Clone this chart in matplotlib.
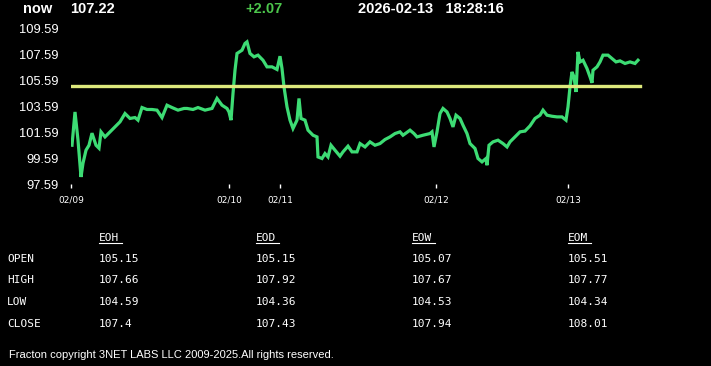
import numpy as np
import matplotlib
matplotlib.use("Agg")
import matplotlib.pyplot as plt
from matplotlib.lines import Line2D

# ---- data (sample index, price) ----
sample = [1, 4, 7, 10, 12, 15, 18, 21, 25, 28, 30, 34, 39, 44, 49, 54, 59, 64, 67, 71,
          76, 81, 86, 91, 96, 101, 107, 113, 116, 122, 127, 134, 141, 146, 151, 156, 158, 160, 162, 164,
          166, 171, 174, 176, 179, 183, 187, 192, 196, 201, 206, 209, 211, 213, 216, 219, 222, 226, 228, 230,
          234, 237, 242, 246, 247, 251, 254, 257, 260, 264, 269, 272, 277, 281, 286, 289, 294, 299, 304, 309,
          314, 319, 324, 329, 332, 339, 343, 346, 352, 359, 361, 363, 366, 369, 372, 376, 379, 382, 385, 389,
          392, 396, 399, 404, 407, 411, 415, 416, 418, 422, 427, 432, 436, 439, 444, 449, 454, 459, 464, 469,
          472, 476, 481, 486, 491, 495, 497, 499, 501, 503, 505, 507, 509, 512, 516, 519, 521, 522, 526, 529,
          532, 537, 541, 545, 549, 554, 559, 564, 567]
price = [100.61, 103.17, 101.00, 98.17, 99.23, 100.23, 100.61, 101.54, 100.61, 100.38, 101.64, 101.25, 101.64, 102.02, 102.41, 103.05, 102.67, 102.74, 102.54, 103.51,
         103.36, 103.36, 103.31, 102.74, 103.69, 103.51, 103.31, 103.44, 103.44, 103.36, 103.51, 103.31, 103.44, 104.21, 103.69, 103.44, 103.17, 102.54, 104.59, 106.38,
         107.67, 107.92, 108.44, 108.56, 107.67, 107.41, 107.54, 107.15, 106.64, 106.64, 106.44, 107.46, 106.51, 105.10, 103.56, 102.54, 101.90, 102.54, 104.21, 102.67,
         102.54, 101.77, 101.38, 101.25, 99.71, 99.59, 99.97, 99.71, 100.61, 100.23, 99.77, 100.10, 100.54, 100.10, 100.10, 100.74, 100.48, 100.87, 100.61, 100.74,
         101.05, 101.25, 101.51, 101.64, 101.38, 101.77, 101.51, 101.25, 101.38, 101.51, 101.64, 100.48, 101.64, 103.05, 103.44, 103.17, 102.67, 102.02, 102.92, 102.67,
         102.15, 101.51, 100.74, 100.36, 99.59, 99.33, 99.59, 99.07, 100.61, 100.87, 101.00, 100.74, 100.48, 100.87, 101.25, 101.64, 101.70, 102.10, 102.67, 102.92,
         103.31, 102.92, 102.84, 102.79, 102.79, 102.54, 103.56, 105.10, 106.25, 105.87, 104.71, 107.79, 107.02, 107.15, 106.51, 105.87, 105.41, 106.38, 106.64, 107.02,
         107.54, 107.54, 107.28, 107.02, 107.10, 106.90, 107.02, 106.90, 107.15]
ref_level = 105.15

tick_pos = [0, 158, 209, 365, 497]
tick_labels = ["02/09", "02/10", "02/11", "02/12", "02/13"]
y_ticks = [97.59, 99.59, 101.59, 103.59, 105.59, 107.59, 109.59]

now_value = "107.22"
change = "+2.07"
stamp = "2026-02-13   18:28:16"

periods = ["EOH", "EOD", "EOW", "EOM"]
rows = ["OPEN", "HIGH", "LOW", "CLOSE"]
table = [["105.15", "105.15", "105.07", "105.51"],
         ["107.66", "107.92", "107.67", "107.77"],
         ["104.59", "104.36", "104.53", "104.34"],
         ["107.4", "107.43", "107.94", "108.01"]]

W, H = 711, 366

def px(x, y):
    return x / W, 1 - y / H

fig = plt.figure(figsize=(W / 100, H / 100), dpi=100, facecolor="black")
ax = fig.add_axes([71 / W, 1 - 184.5 / H, 629 / W, 156 / H], facecolor="black")

ax.plot(sample, price, color="#3ddc74", lw=2.3, solid_joinstyle="miter")
ax.plot([0, 569], [ref_level, ref_level], color="#dde87c", lw=2.4)

ax.set_xlim(0, 629)
ax.set_ylim(97.59, 109.59)
for s in ax.spines.values():
    s.set_visible(False)
ax.set_yticks(y_ticks)
ax.set_yticklabels([f"{v:.2f}" for v in y_ticks], color="white",
                   fontsize=9.3, family="Liberation Sans")
ax.tick_params(axis="y", length=0, pad=9)
ax.set_xticks(tick_pos)
ax.set_xticklabels(tick_labels, color="white", fontsize=6.5, family="DejaVu Sans")
ax.tick_params(axis="x", length=3, width=1, color="white", pad=5)

# header
hdr = dict(color="white", fontsize=10.5, fontweight="bold", family="Liberation Sans", va="center")
fig.text(*px(23, 9), "now", **hdr)
fig.text(*px(70, 9), now_value, **hdr)
fig.text(*px(245, 9), change, **{**hdr, "color": "#4cc64c"})
fig.text(*px(358, 9), stamp, **hdr)

# OHLC table
mono = dict(color="white", fontsize=8, family="DejaVu Sans Mono", va="center")
col_x = [99, 256, 412, 568]
row_y = [259, 280, 302, 324]
for cx, name in zip(col_x, periods):
    fig.text(*px(cx, 238), name, **mono)
    fig.add_artist(Line2D([cx / W, (cx + 23) / W], [1 - 243 / H, 1 - 243 / H],
                          color="white", lw=0.8, transform=fig.transFigure))
for ry, name, vals in zip(row_y, rows, table):
    fig.text(*px(7, ry), name, **mono)
    for cx, v in zip(col_x, vals):
        fig.text(*px(cx, ry), v, **mono)

fig.text(*px(9, 355), "Fracton copyright 3NET LABS LLC 2009-2025.All rights reserved.",
         color="white", fontsize=8, family="Liberation Sans", va="center")

fig.savefig("out.png", dpi=100, facecolor="black")
